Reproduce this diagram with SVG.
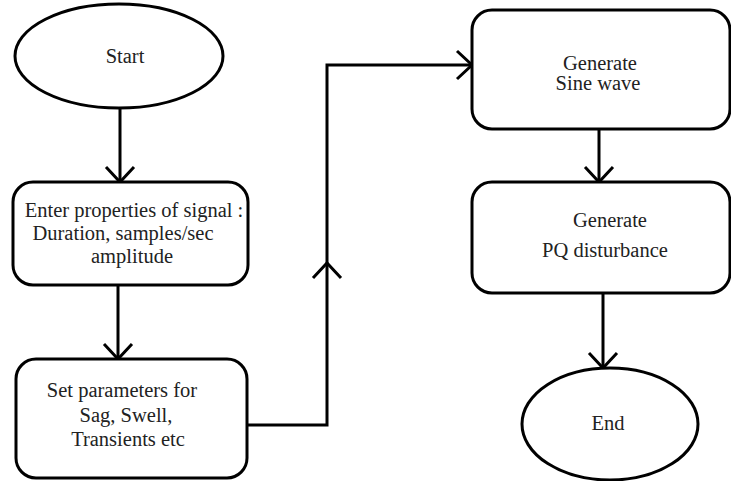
<svg xmlns="http://www.w3.org/2000/svg" width="731" height="481" viewBox="0 0 731 481">
<defs>
<style>
.shape{fill:#fff;stroke:#000;stroke-width:3}
.conn{fill:none;stroke:#000;stroke-width:3}
.lbl{font-size:20.5px;fill:#222;text-anchor:middle}
</style>
<marker id="arr" markerUnits="userSpaceOnUse" markerWidth="40" markerHeight="40" viewBox="-20 -20 40 40" refX="0" refY="0" orient="auto">
<path d="M-15,-14 L0,0 L-15,14" fill="none" stroke="#000" stroke-width="3"/>
</marker>
</defs>
<rect width="731" height="481" fill="#fff"/>
<g id="connectors">
<line class="conn" x1="120" y1="108" x2="120" y2="182" marker-end="url(#arr)"/>
<line class="conn" x1="118" y1="285" x2="118" y2="359" marker-end="url(#arr)"/>
<polyline class="conn" points="247,425 327,425 327,65 472,65" marker-end="url(#arr)"/>
<path class="conn" d="M313,278 L327,263 L341,278"/>
<line class="conn" x1="599" y1="129" x2="599" y2="182" marker-end="url(#arr)"/>
<line class="conn" x1="603" y1="293" x2="603" y2="368" marker-end="url(#arr)"/>
</g>
<g font-family="Liberation Serif, Times New Roman, serif">
<g id="start">
<ellipse class="shape" cx="119" cy="56" rx="104" ry="52"/>
<text class="lbl" x="125" y="63">Start</text>
</g>
<g id="enter-properties">
<rect class="shape" x="13" y="182" width="235" height="103" rx="20"/>
<text class="lbl" x="134" y="217">Enter properties of signal :</text>
<text class="lbl" x="123" y="240">Duration, samples/sec</text>
<text class="lbl" x="132" y="263">amplitude</text>
</g>
<g id="set-parameters">
<rect class="shape" x="16" y="359" width="231" height="119" rx="20"/>
<text class="lbl" x="122" y="397">Set parameters for</text>
<text class="lbl" x="126" y="422">Sag, Swell,</text>
<text class="lbl" x="128" y="446">Transients etc</text>
</g>
<g id="generate-sine">
<rect class="shape" x="472" y="10" width="258" height="119" rx="20"/>
<text class="lbl" x="600" y="70">Generate</text>
<text class="lbl" x="598" y="90">Sine wave</text>
</g>
<g id="generate-pq">
<rect class="shape" x="472" y="182" width="258" height="111" rx="20"/>
<text class="lbl" x="610" y="227">Generate</text>
<text class="lbl" x="605" y="257">PQ disturbance</text>
</g>
<g id="end">
<ellipse class="shape" cx="610" cy="424" rx="88" ry="56"/>
<text class="lbl" x="608" y="430">End</text>
</g>
</g>
</svg>
